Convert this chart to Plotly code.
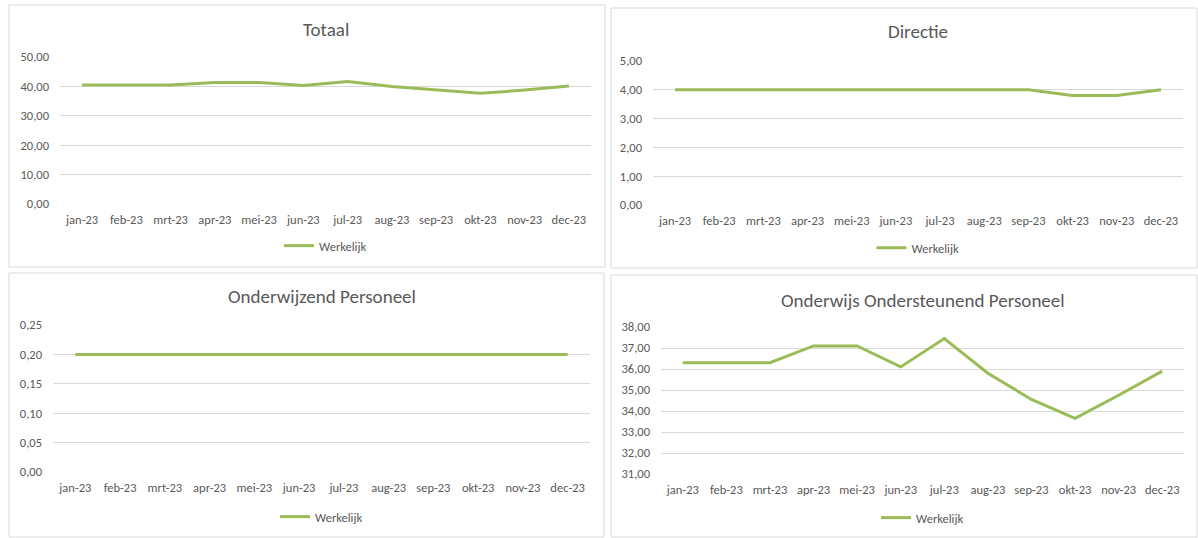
import plotly.graph_objects as go

# ---- data ----
months = ["jan-23", "feb-23", "mrt-23", "apr-23", "mei-23", "jun-23",
          "jul-23", "aug-23", "sep-23", "okt-23", "nov-23", "dec-23"]
totaal = [40.5, 40.5, 40.5, 41.3, 41.3, 40.3, 41.65, 40.0, 38.75, 37.65, 38.75, 40.1]
directie = [4.0, 4.0, 4.0, 4.0, 4.0, 4.0, 4.0, 4.0, 4.0, 3.8, 3.8, 4.0]
onderwijzend = [0.20, 0.20, 0.20, 0.20, 0.20, 0.20, 0.20, 0.20, 0.20, 0.20, 0.20, 0.20]
oop = [36.3, 36.3, 36.3, 37.1, 37.1, 36.1, 37.45, 35.8, 34.55, 33.65, 34.75, 35.9]
titles = ["Totaal", "Directie", "Onderwijzend Personeel", "Onderwijs Ondersteunend Personeel"]
series_name = "Werkelijk"

W, H = 1198, 538
FONT = "Carlito, Calibri, Lato, sans-serif"
GREY = "#595959"
GRID = "#d9d9d9"
GREEN = "#9BBB59"

def fx(x):
    return x / W

def fy(y):
    return 1 - y / H

# panel geometry in pixels: border box, plot box, y range/dtick
panels = [
    dict(data=totaal, border=(9, 5, 605, 267), plot=(60, 57, 591, 204),
         yr=(0, 50), dt=10, fmt=".2f", title_y=29, legend_y=246),
    dict(data=directie, border=(611, 8, 1197, 268), plot=(653, 61, 1183, 205),
         yr=(0, 5), dt=1, fmt=".2f", title_y=32, legend_y=248),
    dict(data=onderwijzend, border=(9, 273, 604, 537), plot=(53, 325, 590, 472),
         yr=(0, 0.25), dt=0.05, fmt=".2f", title_y=297, legend_y=517),
    dict(data=oop, border=(611, 275, 1197, 537), plot=(661, 327, 1184, 474),
         yr=(31, 38), dt=1, fmt=".2f", title_y=300, legend_y=518),
]

fig = go.Figure()
shapes = []
annotations = []
layout = dict(
    width=W, height=H,
    margin=dict(l=0, r=0, t=0, b=0, pad=0, autoexpand=False),
    paper_bgcolor="white", plot_bgcolor="white",
    separators=",.",
    font=dict(family=FONT, color=GREY, size=12),
    showlegend=True,
)

for i, p in enumerate(panels, start=1):
    sfx = "" if i == 1 else str(i)
    x0, y0, x1, y1 = p["plot"]
    lg = "legend" if i == 1 else f"legend{i}"
    fig.add_trace(go.Scatter(
        x=months, y=p["data"], mode="lines", name=series_name,
        line=dict(color=GREEN, width=3),
        xaxis=f"x{sfx}", yaxis=f"y{sfx}", legend=lg,
        hoverinfo="skip",
    ))
    layout[f"xaxis{sfx}"] = dict(
        domain=[fx(x0), fx(x1)], anchor=f"y{sfx}",
        type="category", range=[-0.5, 11.5],
        showgrid=False, zeroline=False, showline=False, ticks="",
        tickfont=dict(size=12.5, color=GREY, family=FONT),
        ticklabelstandoff=6,
        tickangle=0, fixedrange=True, automargin=False,
    )
    layout[f"yaxis{sfx}"] = dict(
        domain=[fy(y1), fy(y0)], anchor=f"x{sfx}",
        range=list(p["yr"]), dtick=p["dt"], tick0=p["yr"][0],
        tickformat=p["fmt"], showgrid=True, gridcolor=GRID, gridwidth=1,
        zeroline=False, showline=False, ticks="",
        tickfont=dict(size=12.5, color=GREY, family=FONT),
        ticklabelstandoff=10, fixedrange=True, automargin=False,
    )
    bx0, by0, bx1, by1 = p["border"]
    shapes.append(dict(type="rect", xref="paper", yref="paper",
                       x0=fx(bx0), x1=fx(bx1), y0=fy(by1), y1=fy(by0),
                       line=dict(color=GRID, width=1), layer="below"))
    cx = (x0 + x1) / 2
    annotations.append(dict(text=titles[i - 1], xref="paper", yref="paper",
                            x=fx(cx), y=fy(p["title_y"]), xanchor="center",
                            yanchor="middle", showarrow=False,
                            font=dict(size=19, color=GREY, family=FONT)))
    layout[lg] = dict(
        x=fx(cx), y=fy(p["legend_y"]), xanchor="center", yanchor="middle",
        orientation="h", bgcolor="rgba(0,0,0,0)",
        font=dict(size=12.5, color=GREY, family=FONT),
        itemwidth=30,
    )

layout["shapes"] = shapes
layout["annotations"] = annotations
fig.update_layout(**layout)

fig.write_html(
    "out.html",
    config=dict(displayModeBar=False, responsive=False),
    post_script="document.body.style.margin='0';document.body.style.overflow='hidden';",
)
